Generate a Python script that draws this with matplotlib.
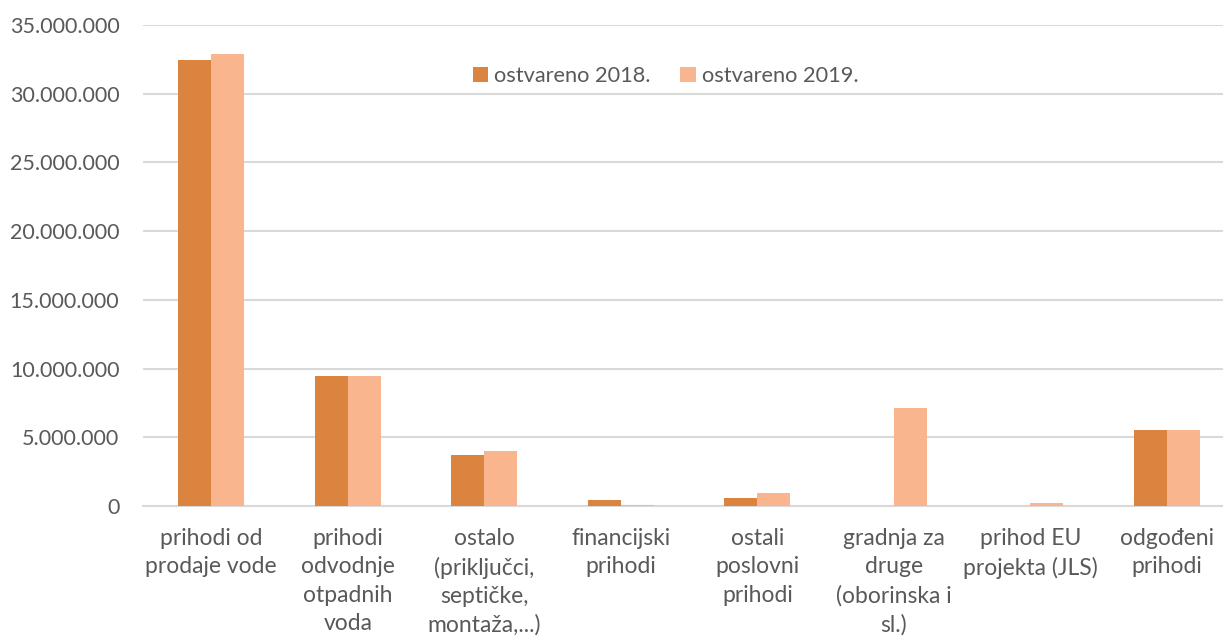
import matplotlib

matplotlib.use("Agg")
import matplotlib.pyplot as plt
import numpy as np
from matplotlib.ticker import FuncFormatter

plt.rcParams["font.family"] = ["Lato", "DejaVu Sans"]

categories = [
    "prihodi od\nprodaje vode",
    "prihodi\nodvodnje\notpadnih\nvoda",
    "ostalo\n(priključci,\nseptičke,\nmontaža,...)",
    "financijski\nprihodi",
    "ostali\nposlovni\nprihodi",
    "gradnja za\ndruge\n(oborinska i\nsl.)",
    "prihod EU\nprojekta (JLS)",
    "odgođeni\nprihodi",
]
ostvareno_2018 = [32450000, 9450000, 3700000, 440000, 560000, 0, 20000, 5530000]
ostvareno_2019 = [32900000, 9450000, 4000000, 100000, 920000, 7130000, 190000, 5530000]
series_names = ["ostvareno 2018.", "ostvareno 2019."]

C2018 = "#DB843F"
C2019 = "#F8B58E"
GRID = "#D9D9D9"
TXT = "#595959"

W, H = 1223, 635
fig = plt.figure(figsize=(W / 100, H / 100), dpi=100)
ax = fig.add_axes([143 / W, 1 - 506 / H, (W - 143) / W, (506 - 25) / H])

x = np.arange(len(categories))
w = 0.24
ax.bar(x - w / 2, ostvareno_2018, w, color=C2018, label=series_names[0], zorder=3)
ax.bar(x + w / 2, ostvareno_2019, w, color=C2019, label=series_names[1], zorder=3)

ax.set_ylim(0, 35000000)
ax.set_xlim(-0.5, -0.5 + (W - 143) / 136.5)
ax.set_yticks(np.arange(0, 35000001, 5000000))
ax.yaxis.set_major_formatter(FuncFormatter(lambda v, p: f"{int(v):,}".replace(",", ".")))
ax.set_xticks(x)
ax.set_xticklabels(categories, linespacing=1.42, fontsize=16.5)

ax.grid(axis="y", color=GRID, linewidth=1.5, zorder=0)
for s in ["top", "right", "left"]:
    ax.spines[s].set_visible(False)
ax.spines["bottom"].set_color(GRID)
ax.spines["bottom"].set_linewidth(1.5)
ax.tick_params(axis="both", length=0, labelcolor=TXT)
ax.tick_params(axis="y", pad=17, labelsize=15.5)
ax.tick_params(axis="x", pad=16)
for t in ax.get_xticklabels():
    t.set_verticalalignment("top")

ax.legend(loc="center", bbox_to_anchor=(0.484, 0.893), ncol=2,
          frameon=False, fontsize=15.7, labelcolor=TXT, handlelength=0.7,
          handleheight=0.7, handletextpad=0.3, columnspacing=1.35)

fig.savefig("out.png", dpi=100, facecolor="white")
